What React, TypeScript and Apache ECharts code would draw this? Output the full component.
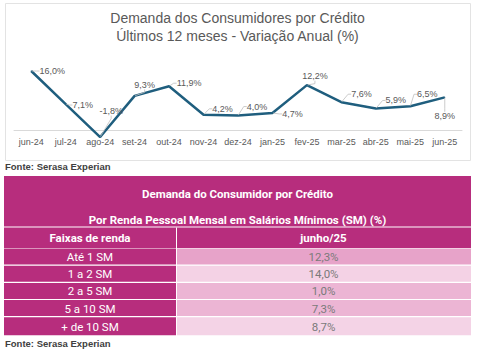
import React, { useEffect, useRef } from "react";
import * as echarts from "echarts";

const months = ["jun-24", "jul-24", "ago-24", "set-24", "out-24", "nov-24", "dez-24", "jan-25", "fev-25", "mar-25", "abr-25", "mai-25", "jun-25"];
const demand = [16.0, 7.1, -1.8, 9.3, 11.9, 4.2, 4.0, 4.7, 12.2, 7.6, 5.9, 6.5, 8.9];

const incomeBands = ["Até 1 SM", "1 a 2 SM", "2 a 5 SM", "5 a 10 SM", "+ de 10 SM"];
const bandValues = [12.3, 14.0, 1.0, 7.3, 8.7];

const chartTitle = ["Demanda dos Consumidores por Crédito", "Últimos 12 meses - Variação Anual (%)"];
const tableTitle = ["Demanda do Consumidor por Crédito", "Por Renda Pessoal Mensal em Salários Mínimos (SM) (%)"];
const tableHeader = ["Faixas de renda", "junho/25"];
const sourceText = "Fonte: Serasa Experian";

// label placement (layout only)
const labelOffsets: [number, number][] = [
  [21, 0], [17, 1], [11, -26], [10, -11], [20, -3], [19, -6], [19, -9],
  [20, 1], [8, -9], [20, -8], [20, -8], [17, -12], [0, 19],
];
const rowFills = ["#E7A3C9", "#F4D2E5", "#ECB5D4", "#ECB5D4", "#F4D3E6"];

const fmt = (v: number) => v.toFixed(1).replace(".", ",") + "%";

const MAGENTA = "#B72D7D";
const FONT = "Roboto, 'Liberation Sans', Arial, sans-serif";
const SANS = "'Liberation Sans', Arial, sans-serif";

export default function App() {
  const ref = useRef<HTMLDivElement>(null);
  useEffect(() => {
    if (!ref.current) return;
    const chart = echarts.init(ref.current, undefined, { renderer: "svg" });

    const graphics: any[] = [];
    graphics.push({
      type: "rect", z: -10, silent: true,
      shape: { x: 5.5, y: 3.5, width: 465, height: 157 },
      style: { fill: "#fff", stroke: "#e3e3e3", lineWidth: 1 },
    });
    chartTitle.forEach((t, i) => {
      graphics.push({
        type: "text", x: 237.5, y: 18 + i * 18,
        style: { text: t, fill: "#595959", font: `14px ${SANS}`, textAlign: "center", textVerticalAlign: "middle" },
      });
    });
    [166, 343].forEach((y) => {
      graphics.push({
        type: "text", x: 5, y,
        style: { text: sourceText, fill: "#404040", font: `bold 9.5px ${SANS}`, textAlign: "left", textVerticalAlign: "middle" },
      });
    });

    const tx = 4, tw = 467, splitX = 176.5, rightX = 177;
    graphics.push({ type: "rect", shape: { x: tx, y: 176, width: tw, height: 50.5 }, style: { fill: MAGENTA } });
    graphics.push({ type: "rect", shape: { x: tx, y: 227.5, width: tw, height: 20.5 }, style: { fill: MAGENTA } });
    graphics.push({ type: "line", shape: { x1: splitX, y1: 227.5, x2: splitX, y2: 248 }, style: { stroke: "#fff", lineWidth: 1 } });
    tableTitle.forEach((t, i) => {
      graphics.push({
        type: "text", x: 237.5, y: 194 + i * 25.5,
        style: { text: t, fill: "#fff", font: `bold 11.5px ${FONT}`, textAlign: "center", textVerticalAlign: "middle" },
      });
    });
    const colCenters = [90, 323.5];
    tableHeader.forEach((t, i) => {
      graphics.push({
        type: "text", x: colCenters[i], y: 238,
        style: { text: t, fill: "#fff", font: `bold 11.5px ${FONT}`, textAlign: "center", textVerticalAlign: "middle" },
      });
    });
    const rowTop = 248.5, rowH = 17.2;
    incomeBands.forEach((b, i) => {
      const y = rowTop + i * rowH;
      const h = rowH - 1.2 + (i === incomeBands.length - 1 ? 2 : 0);
      graphics.push({ type: "rect", shape: { x: tx, y, width: splitX - tx - 0.5, height: h }, style: { fill: MAGENTA } });
      graphics.push({ type: "rect", shape: { x: rightX, y, width: tx + tw - rightX, height: h }, style: { fill: rowFills[i % rowFills.length] } });
      graphics.push({
        type: "text", x: colCenters[0], y: y + h / 2 + 0.5,
        style: { text: b, fill: "#fff", font: `11.5px ${FONT}`, textAlign: "center", textVerticalAlign: "middle" },
      });
      graphics.push({
        type: "text", x: colCenters[1], y: y + h / 2 + 0.5,
        style: { text: fmt(bandValues[i]), fill: "#7a7a7a", font: `11.5px ${FONT}`, textAlign: "center", textVerticalAlign: "middle" },
      });
    });

    chart.setOption({
      animation: false,
      graphic: { elements: graphics },
      grid: { left: 14, right: 19, top: 63.6, height: 74.2, containLabel: false },
      xAxis: {
        type: "category",
        data: months,
        boundaryGap: true,
        axisLine: { show: true, onZero: true, lineStyle: { color: "#d9d9d9", width: 1 } },
        axisTick: { show: false },
        axisLabel: { color: "#595959", fontSize: 9, margin: 0, interval: 0, fontFamily: SANS },
        splitLine: { show: false },
      },
      yAxis: { type: "value", min: -2, max: 18, show: false, splitLine: { show: false } },
      series: [
        {
          type: "line",
          data: demand,
          symbol: "circle",
          symbolSize: 1,
          itemStyle: { color: "#1F5E7E" },
          lineStyle: { color: "#1F5E7E", width: 2.5 },
          label: {
            show: true,
            position: "inside",
            color: "#595959",
            fontSize: 9,
            fontFamily: SANS,
            formatter: (p: any) => fmt(p.value),
          },
          labelLayout: (p: any) => ({ dx: labelOffsets[p.dataIndex][0], dy: labelOffsets[p.dataIndex][1] }),
          labelLine: { show: true, length2: 3, lineStyle: { color: "#bfbfbf", width: 0.8 } },
          z: 5,
        },
      ],
    });
    return () => chart.dispose();
  }, []);
  return <div ref={ref} style={{ position: "absolute", left: 0, top: 0, width: 481, height: 352 }} />;
}
